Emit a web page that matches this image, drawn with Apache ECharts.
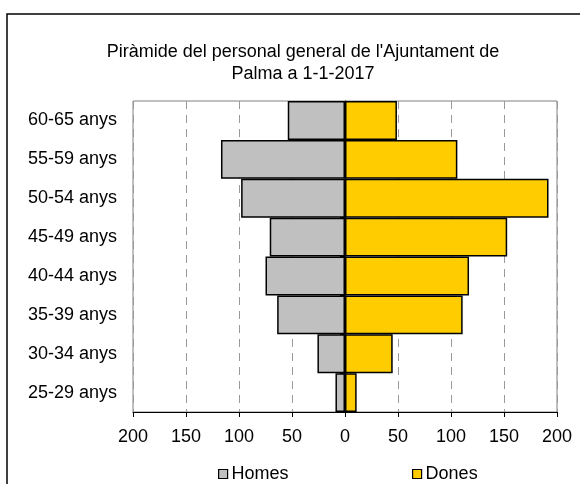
<!DOCTYPE html>
<html>
<head>
<meta charset="utf-8">
<script src="https://cdn.jsdelivr.net/npm/echarts@6/dist/echarts.min.js"></script>
<style>html,body{margin:0;padding:0;background:#fff}#c{width:580px;height:484px}</style>
</head>
<body>
<div id="c"></div>
<script>
var categories = ['25-29 anys','30-34 anys','35-39 anys','40-44 anys','45-49 anys','50-54 anys','55-59 anys','60-65 anys'];
var homes = [9, 26, 64, 75, 71, 98, 117, 54];
var dones = [11, 45, 111, 117, 153, 192, 106, 49];
var xTicks = [-200, -150, -100, -50, 0, 50, 100, 150, 200];

var font = '"Liberation Sans", Arial, sans-serif';
var chart = echarts.init(document.getElementById('c'), null, {renderer: 'canvas'});
chart.setOption({
  animation: false,
  backgroundColor: '#fff',
  graphic: [{
    type: 'rect', shape: {x: 7, y: 14, width: 590, height: 500},
    style: {fill: 'none', stroke: '#000', lineWidth: 1.5}, z: 0, silent: true
  }],
  title: {
    text: 'Piràmide del personal general de l\'Ajuntament de\nPalma a 1-1-2017',
    left: 298, textAlign: 'center', top: 36,
    textStyle: {fontFamily: font, fontSize: 18, fontWeight: 'normal', color: '#000', lineHeight: 22}
  },
  legend: [{
    data: ['Homes'], left: 213, top: 460, icon: 'rect', itemWidth: 9, itemHeight: 9, itemGap: 6,
    textStyle: {fontFamily: font, fontSize: 18, color: '#000', padding: [0,0,0,-1]},
    itemStyle: {borderColor: '#000', borderWidth: 1.2}
  }, {
    data: ['Dones'], left: 407, top: 460, icon: 'rect', itemWidth: 9, itemHeight: 9, itemGap: 6,
    textStyle: {fontFamily: font, fontSize: 18, color: '#000', padding: [0,0,0,-1]},
    itemStyle: {borderColor: '#000', borderWidth: 1.2}
  }],
  grid: {left: 133, right: 23, top: 101, bottom: 72, show: true, borderColor: '#808080', borderWidth: 1, containLabel: false},
  xAxis: {
    type: 'value', min: xTicks[0], max: xTicks[xTicks.length-1], interval: 50,
    axisLine: {show: true, onZero: false, lineStyle: {color: '#000', width: 1}},
    axisTick: {show: true, length: 5, lineStyle: {color: '#000'}},
    axisLabel: {margin: 16, fontFamily: font, fontSize: 18, color: '#000', formatter: function(v){return Math.abs(v);}},
    splitLine: {show: true, lineStyle: {color: '#9a9a9a', type: [8, 6], width: 1}}
  },
  yAxis: {
    type: 'category', data: categories, boundaryGap: true,
    axisLine: {show: true, lineStyle: {color: '#000', width: 1}},
    axisTick: {show: true, length: 5, lineStyle: {color: '#000'}},
    axisLabel: {margin: 16, fontFamily: font, fontSize: 18, color: '#000'},
    splitLine: {show: false}
  },
  series: [{
    name: 'Homes', type: 'bar', stack: 't', barWidth: '100%',
    data: homes.map(function(v){return -v;}),
    itemStyle: {color: '#C0C0C0', borderColor: '#000', borderWidth: 1.5}
  }, {
    name: 'Dones', type: 'bar', stack: 't', barWidth: '100%',
    data: dones,
    itemStyle: {color: '#FFCC00', borderColor: '#000', borderWidth: 1.5}
  }]
});
</script>
</body>
</html>
